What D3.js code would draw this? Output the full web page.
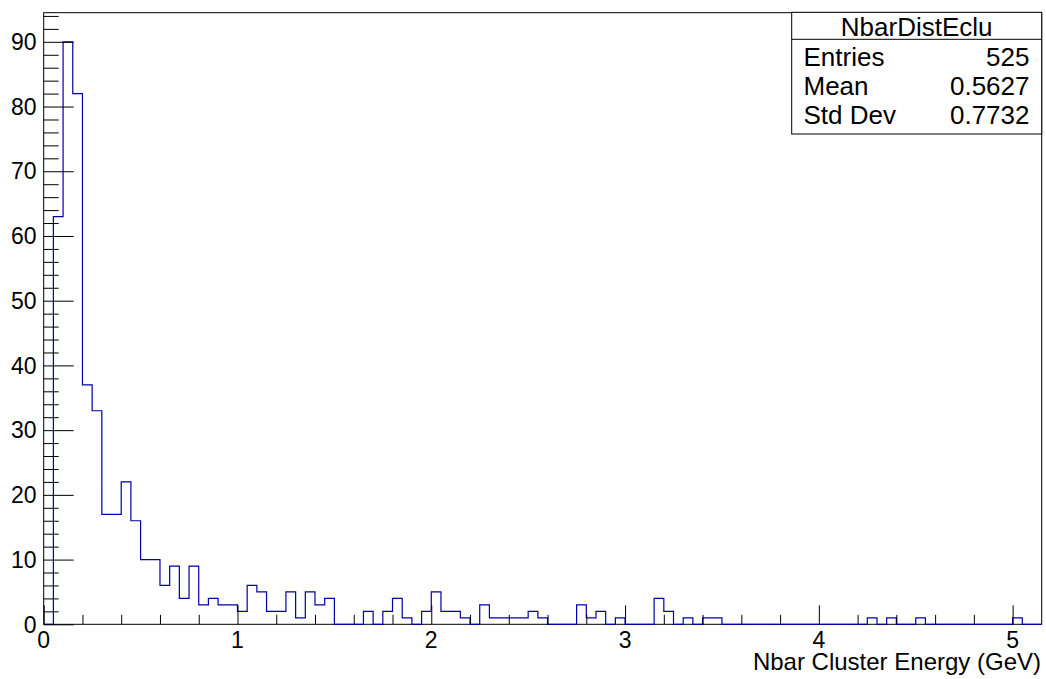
<!DOCTYPE html>
<html>
<head>
<meta charset="utf-8">
<script src="https://cdn.jsdelivr.net/npm/d3@7"></script>
<style>
  html, body { margin: 0; padding: 0; background: #fff; }
  svg { display: block; font-family: "Liberation Sans", Arial, Helvetica, sans-serif; }
</style>
</head>
<body>
<svg id="chart" width="1046" height="679"></svg>
<script>
// Histogram NbarDistEclu: 103 bins of 0.05 GeV from 0 to 5.15 GeV
const histName = "NbarDistEclu";
const xTitle = "Nbar Cluster Energy (GeV)";
const xRange = [0, 5.15];
const binWidth = 0.05;
const counts = [
  0, 63, 90, 82, 37, 33, 17, 17, 22, 16,
  10, 10, 6, 9, 4, 9, 3, 4, 3, 3,
  2, 6, 5, 2, 2, 5, 1, 5, 3, 4,
  0, 0, 0, 2, 0, 2, 4, 1, 0, 2,
  5, 2, 2, 1, 0, 3, 1, 1, 1, 1,
  2, 1, 0, 0, 0, 3, 1, 2, 0, 1,
  0, 0, 0, 4, 2, 0, 1, 0, 1, 1,
  0, 0, 0, 0, 0, 0, 0, 0, 0, 0,
  0, 0, 0, 0, 0, 1, 0, 1, 0, 0,
  1, 0, 0, 0, 0, 0, 0, 0, 0, 0,
  1, 0, 0
];
const xMajorTicks = [0, 1, 2, 3, 4, 5];
const yMajorTicks = [0, 10, 20, 30, 40, 50, 60, 70, 80, 90];
const statLabels = ["Entries", "Mean", "Std Dev"];
const statValues = ["525", "0.5627", "0.7732"];

const svg = d3.select("#chart");
const frame = { left: 43.7, right: 1041.7, top: 12.7, bottom: 624.3 };
const yMax = d3.max(counts) * 1.05;

const x = d3.scaleLinear().domain(xRange).range([frame.left, frame.right]);
const y = d3.scaleLinear().domain([0, yMax]).range([frame.bottom, frame.top]);

// minor tick positions: five subdivisions per major step
const xMinor = d3.range(0, xRange[1] + 1e-9, 0.2).filter(v => Math.abs(v - Math.round(v)) > 1e-6);
const yMinor = d3.range(0, yMax + 1e-9, 2).filter(v => v % 10 !== 0);

// frame
svg.append("rect")
  .attr("x", frame.left).attr("y", frame.top)
  .attr("width", frame.right - frame.left).attr("height", frame.bottom - frame.top)
  .attr("fill", "none").attr("stroke", "#000").attr("stroke-width", 1);

// histogram outline
const pts = [[xRange[0], 0]];
counts.forEach((c, i) => {
  pts.push([xRange[0] + i * binWidth, c]);
  pts.push([xRange[0] + (i + 1) * binWidth, c]);
});
pts.push([xRange[1], 0]);
svg.append("path")
  .attr("d", d3.line().x(d => x(d[0])).y(d => y(d[1]))(pts))
  .attr("fill", "none").attr("stroke", "#0000a8").attr("stroke-width", 1.2);

// x axis ticks (drawn inward, upward from the bottom frame)
const xAxis = d3.axisTop(x).tickValues(xMajorTicks).tickSize(19).tickFormat("");
svg.append("g").attr("transform", `translate(0,${frame.bottom})`).call(xAxis)
  .call(g => g.select(".domain").remove())
  .selectAll("line").attr("stroke", "#000");
const xAxisMinor = d3.axisTop(x).tickValues(xMinor).tickSize(9.5).tickFormat("");
svg.append("g").attr("transform", `translate(0,${frame.bottom})`).call(xAxisMinor)
  .call(g => g.select(".domain").remove())
  .selectAll("line").attr("stroke", "#000");

svg.append("g").selectAll("text").data(xMajorTicks).join("text")
  .attr("x", d => x(d)).attr("y", 648)
  .attr("text-anchor", "middle").attr("font-size", 23).attr("fill", "#000")
  .text(d => d);

// y axis ticks (drawn inward, to the right of the left frame)
const yAxis = d3.axisRight(y).tickValues(yMajorTicks).tickSize(30).tickFormat("");
svg.append("g").attr("transform", `translate(${frame.left},0)`).call(yAxis)
  .call(g => g.select(".domain").remove())
  .selectAll("line").attr("stroke", "#000");
const yAxisMinor = d3.axisRight(y).tickValues(yMinor).tickSize(15).tickFormat("");
svg.append("g").attr("transform", `translate(${frame.left},0)`).call(yAxisMinor)
  .call(g => g.select(".domain").remove())
  .selectAll("line").attr("stroke", "#000");

svg.append("g").selectAll("text").data(yMajorTicks).join("text")
  .attr("x", 36.5).attr("y", d => y(d) + 8.2)
  .attr("text-anchor", "end").attr("font-size", 23).attr("fill", "#000")
  .text(d => d);

// axis title
svg.append("text")
  .attr("x", 1041).attr("y", 670)
  .attr("text-anchor", "end").attr("font-size", 24).attr("fill", "#000")
  .text(xTitle);

// statistics box
const box = { left: 791.7, right: 1041.7, top: 12.3, bottom: 134, sep: 39.3 };
const stats = svg.append("g");
stats.append("rect")
  .attr("x", box.left).attr("y", box.top)
  .attr("width", box.right - box.left).attr("height", box.bottom - box.top)
  .attr("fill", "#fff").attr("stroke", "#000").attr("stroke-width", 1);
stats.append("line")
  .attr("x1", box.left).attr("x2", box.right)
  .attr("y1", box.sep).attr("y2", box.sep)
  .attr("stroke", "#000").attr("stroke-width", 1);
stats.append("text")
  .attr("x", (box.left + box.right) / 2).attr("y", 36)
  .attr("text-anchor", "middle").attr("font-size", 26).attr("fill", "#000")
  .text(histName);
const rowBase = [66, 95, 124];
stats.selectAll("text.lab").data(statLabels).join("text").attr("class", "lab")
  .attr("x", 803.5).attr("y", (d, i) => rowBase[i])
  .attr("font-size", 26).attr("fill", "#000").text(d => d);
stats.selectAll("text.val").data(statValues).join("text").attr("class", "val")
  .attr("x", 1029.5).attr("y", (d, i) => rowBase[i])
  .attr("text-anchor", "end").attr("font-size", 26).attr("fill", "#000").text(d => d);
</script>
</body>
</html>
